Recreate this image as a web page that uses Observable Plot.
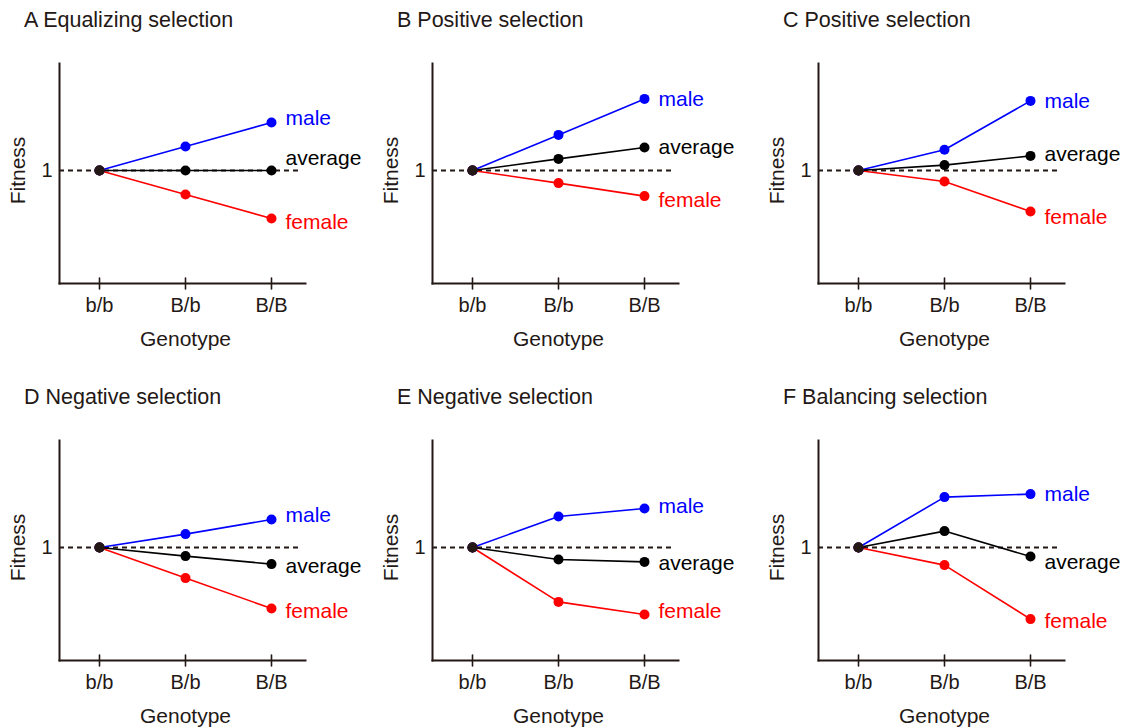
<!DOCTYPE html>
<html><head><meta charset="utf-8">
<script src="https://cdn.jsdelivr.net/npm/d3@7"></script>
<script src="https://cdn.jsdelivr.net/npm/@observablehq/plot@0.6"></script>
<style>
html,body{margin:0;padding:0;background:#fff;overflow:hidden;}
#root{position:relative;width:1129px;height:728px;font-family:"Liberation Sans",Arial,sans-serif;}
.panel{position:absolute;width:370px;height:350px;}
.title{position:absolute;left:24px;top:10px;font-size:21.5px;line-height:21px;color:#231815;white-space:nowrap;}
.panel svg{position:absolute;left:0;top:40px;}
</style></head><body><div id="root"></div>
<script>
// ---- data ----
const genotypes = ["b/b", "B/b", "B/B"];
const panelTitles = [
  "A Equalizing selection", "B Positive selection", "C Positive selection",
  "D Negative selection", "E Negative selection", "F Balancing selection"
];
const seriesNames = ["female", "male", "average"];
const seriesColors = ["#ff0000", "#0000ff", "#000000"];
const maleFitness = [
  [1, 1.12, 1.24], [1, 1.178, 1.358], [1, 1.104, 1.348],
  [1, 1.067, 1.14], [1, 1.155, 1.195], [1, 1.252, 1.267]
];
const femaleFitness = [
  [1, 0.88, 0.76], [1, 0.937, 0.872], [1, 0.945, 0.795],
  [1, 0.847, 0.695], [1, 0.728, 0.665], [1, 0.912, 0.642]
];
const averageFitness = [
  [1, 1, 1], [1, 1.058, 1.115], [1, 1.027, 1.073],
  [1, 0.957, 0.917], [1, 0.94, 0.928], [1, 1.082, 0.955]
];
const yTicks = [1];
const yDomain = [0.435, 1.535];
const xLabel = "Genotype";
const yLabel = "Fitness";

// ---- layout (not data) ----
const colLeft = [0, 373, 759];
const rowTop = [0, 377];
// label vertical nudges per panel
const labelDy = [
  {female: 4, male: -4, average: -12},
  {female: 4, male: 0, average: 0},
  {female: 6, male: 0, average: -2},
  {female: 3, male: -4, average: 2},
  {female: -3, male: -2, average: 1},
  {female: 2, male: 0, average: 6}
];
const ink = "#231815";
const font = '"Liberation Sans", Arial, sans-serif';
const tickShape = {draw(context, l) { context.moveTo(0, 0); context.lineTo(0, -l); }};

const root = document.getElementById("root");
const seriesValues = {female: femaleFitness, male: maleFitness, average: averageFitness};

panelTitles.forEach((title, p) => {
  const rows = seriesNames.flatMap(s => genotypes.map((g, gi) => ({
    series: s, genotype: g, fitness: seriesValues[s][p][gi]
  })));
  const last = rows.filter(d => d.genotype === genotypes[2]);
  const labelMarks = seriesNames.map(s => Plot.text(last.filter(d => d.series === s), {
    x: "genotype", y: "fitness", text: "series", fill: "series",
    textAnchor: "start", dx: 14, dy: labelDy[p][s], fontSize: 21
  }));
  const chart = Plot.plot({
    width: 370, height: 310,
    marginLeft: 59, marginRight: 65, marginTop: 23, marginBottom: 67,
    style: {fontFamily: font, fontSize: "20px", color: ink, background: "transparent", overflow: "visible"},
    x: {type: "point", domain: genotypes, range: [98.3, 271], padding: 0, axis: null},
    y: {domain: yDomain, axis: null},
    color: {domain: seriesNames, range: seriesColors},
    marks: [
      Plot.ruleY(yTicks, {stroke: ink, strokeWidth: 2, strokeDasharray: "5,4", insetRight: 3}),
      Plot.frame({anchor: "left", stroke: ink, strokeWidth: 2}),
      Plot.frame({anchor: "bottom", stroke: ink, strokeWidth: 2}),
      Plot.vector(genotypes, {x: d => d, frameAnchor: "bottom", length: 11, anchor: "middle",
        shape: tickShape, stroke: ink, strokeWidth: 1.6}),
      Plot.axisX({tickSize: 0, tickPadding: 14, fontSize: 20, label: null, fill: ink}),
      Plot.axisY(yTicks, {tickSize: 0, tickPadding: 7, fontSize: 20, label: null, fill: ink, tickFormat: d3.format("d")}),
      Plot.text([xLabel], {x: () => genotypes[1], frameAnchor: "bottom", lineAnchor: "middle", dy: 56, fontSize: 21, fill: ink}),
      Plot.text([yLabel], {y: () => yTicks[0], frameAnchor: "left", textAnchor: "middle", lineAnchor: "middle", dx: -41, rotate: -90, fontSize: 21, fill: ink}),
      Plot.line(rows, {x: "genotype", y: "fitness", z: "series", stroke: "series", strokeWidth: 1.6}),
      Plot.dot(rows, {x: "genotype", y: "fitness", fill: "series", r: 5}),
      Plot.dot(rows.filter(d => d.genotype === genotypes[0] && d.series === "average"),
        {x: "genotype", y: "fitness", fill: ink, r: 5}),
      ...labelMarks
    ]
  });
  const panel = document.createElement("div");
  panel.className = "panel";
  panel.style.left = colLeft[p % 3] + "px";
  panel.style.top = rowTop[Math.floor(p / 3)] + "px";
  const t = document.createElement("div");
  t.className = "title";
  t.textContent = title;
  panel.appendChild(t);
  panel.appendChild(chart);
  root.appendChild(panel);
});
</script>
</body></html>
